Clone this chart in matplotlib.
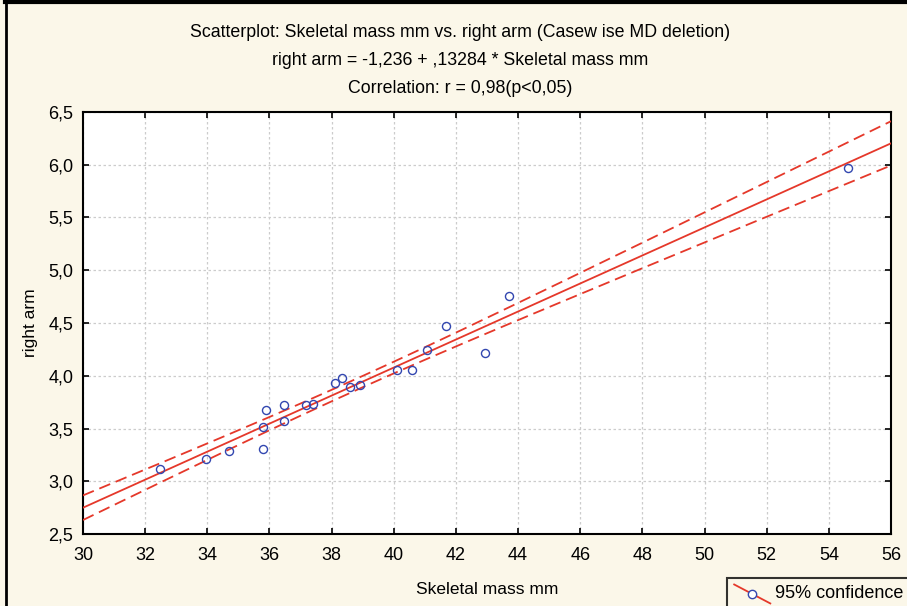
import numpy as np
import matplotlib.pyplot as plt
from matplotlib.lines import Line2D
from matplotlib.legend_handler import HandlerBase
from matplotlib.ticker import FuncFormatter

plt.rcParams['font.family'] = ['Liberation Sans', 'DejaVu Sans']

# data
skeletal_mass = [32.48, 33.96, 34.70, 35.79, 35.79, 35.89, 36.47, 36.47, 37.17, 37.40,
                 38.11, 38.33, 38.59, 38.91, 40.10, 40.59, 41.07, 41.68, 42.93, 43.71, 54.61]
right_arm = [3.12, 3.21, 3.29, 3.31, 3.51, 3.68, 3.57, 3.72, 3.72, 3.73,
             3.93, 3.98, 3.89, 3.91, 4.05, 4.05, 4.24, 4.47, 4.22, 4.76, 5.97]
intercept = -1.236
slope = 0.13284
x_range = [30, 56]

x = np.array(skeletal_mass)
y = np.array(right_arm)
n = len(x)

xs = np.linspace(x_range[0], x_range[1], 200)
fit = intercept + slope * xs
resid = y - (intercept + slope * x)
s = np.sqrt(np.sum(resid ** 2) / (n - 2))
t = 2.093  # t(0.975, 19)
se = s * np.sqrt(1.0 / n + (xs - x.mean()) ** 2 / np.sum((x - x.mean()) ** 2))

red = '#e5382a'
blue = '#3347b0'
cream = '#fbf7e9'


class DiagHandler(HandlerBase):
    """Legend key: slanted red line with an open circle on it."""
    def create_artists(self, legend, orig_handle, xdescent, ydescent,
                       width, height, fontsize, trans):
        x0, x1 = -xdescent, width - xdescent
        y0, y1 = height * 1.05 - ydescent, -height * 0.45 - ydescent
        ln = Line2D([x0, x1], [y0, y1], color=red, lw=1.3, transform=trans)
        mk = Line2D([(x0 + x1) / 2], [(y0 + y1) / 2], marker='o', mfc='white',
                    mec=blue, ms=6, mew=1.0, ls='none', transform=trans)
        return [ln, mk]


fig = plt.figure(figsize=(9.07, 6.06), dpi=100, facecolor=cream)
ax = fig.add_axes([0.0915, 0.1188, 0.8909, 0.6964])
ax.set_facecolor('white')

dash = (0, (6.5, 3.3))
ax.plot(xs, fit, color=red, lw=1.3, zorder=3)
ax.plot(xs, fit + t * se, color=red, lw=1.3, ls=dash, zorder=3)
ax.plot(xs, fit - t * se, color=red, lw=1.3, ls=dash, zorder=3)
ax.plot(x, y, 'o', mfc='none', mec=blue, ms=5.8, mew=1.0, zorder=4)

ax.set_xlim(x_range)
ax.set_ylim(2.5, 6.5)
ax.set_xticks(np.arange(30, 57, 2))
ax.set_yticks(np.arange(2.5, 6.51, 0.5))
ax.yaxis.set_major_formatter(FuncFormatter(lambda v, p: ('%.1f' % v).replace('.', ',')))
ax.grid(True, color='#cccccc', ls=(0, (2, 2)), lw=0.9)
ax.tick_params(direction='in', length=4, width=1.2, top=True, right=True, labelsize=13)
ax.tick_params(axis='x', pad=9)
ax.tick_params(axis='y', pad=7)
for sp in ax.spines.values():
    sp.set_linewidth(1.5)

ax.set_xlabel('Skeletal mass mm', fontsize=12.5, labelpad=13)
ax.set_ylabel('right arm', fontsize=12.5, labelpad=7)

fig.text(0.507, 0.946, 'Scatterplot: Skeletal mass mm vs. right arm (Casew ise MD deletion)',
         ha='center', va='center', fontsize=12.8)
fig.text(0.507, 0.900, 'right arm = -1,236 + ,13284 * Skeletal mass mm',
         ha='center', va='center', fontsize=12.8)
fig.text(0.507, 0.854, 'Correlation: r = 0,98(p<0,05)',
         ha='center', va='center', fontsize=12.8)

# frame along top and left edge
fig.add_artist(Line2D([0.0068, 0.0068], [0, 0.997], color='black', lw=2, transform=fig.transFigure))
fig.add_artist(Line2D([0.0058, 1.0], [0.997, 0.997], color='black', lw=3, transform=fig.transFigure))

handle = Line2D([], [], color=red)
leg = fig.legend([handle], ['95% confidence'], loc='upper left',
                 handler_map={Line2D: DiagHandler()},
                 bbox_to_anchor=(0.8015, 0.047), fontsize=13, frameon=True,
                 fancybox=False, edgecolor='black', handlelength=2.0,
                 borderpad=0.4, borderaxespad=0, handletextpad=0.25)
leg.get_frame().set_linewidth(1.5)
leg.get_frame().set_facecolor(cream)

fig.savefig('out.png', dpi=100, facecolor=fig.get_facecolor())
